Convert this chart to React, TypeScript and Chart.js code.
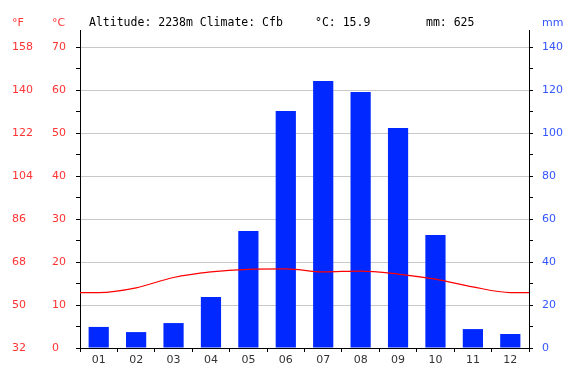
import React, { useEffect, useRef } from 'react';
import { Chart, registerables } from 'chart.js';

Chart.register(...registerables);

const months = ['01', '02', '03', '04', '05', '06', '07', '08', '09', '10', '11', '12'];
const precipitationMm = [9.8, 7.4, 11.6, 23.7, 54.4, 110.2, 124.2, 119.1, 102.3, 52.6, 8.8, 6.5];
const temperatureC = [12.9, 14.0, 16.4, 17.7, 18.3, 18.4, 17.7, 17.9, 17.2, 16.0, 14.2, 12.9];

const headerInfo = 'Altitude: 2238m Climate: Cfb';
const headerTemp = '°C: 15.9';
const headerPrecip = 'mm: 625';
const unitF = '°F';
const unitC = '°C';
const unitMm = 'mm';

const RED = '#ff3333';
const BLUE = '#3355ff';
const TICK_FONT = { family: 'DejaVu Sans', size: 11 };

export default function App() {
  const ref = useRef<HTMLCanvasElement>(null);

  useEffect(() => {
    document.body.style.margin = '0';
    const canvas = ref.current;
    if (!canvas) return;

    const lineData = [
      { x: 0.5, y: temperatureC[0] },
      ...temperatureC.map((v, i) => ({ x: i + 1, y: v })),
      { x: 12.5, y: temperatureC[temperatureC.length - 1] },
    ];

    const decor = {
      id: 'decor',
      afterDraw(chart: any) {
        const { ctx, chartArea } = chart;
        ctx.save();
        ctx.strokeStyle = '#000';
        ctx.lineWidth = 1;
        const lx = Math.round(chartArea.left) + 0.5;
        const rx = Math.round(chartArea.right) + 0.5;
        ctx.beginPath();
        ctx.moveTo(lx, 30);
        ctx.lineTo(lx, chartArea.top);
        ctx.moveTo(rx, 30);
        ctx.lineTo(rx, chartArea.top);
        ctx.stroke();

        ctx.textBaseline = 'middle';
        ctx.textAlign = 'left';
        ctx.font = '11px "DejaVu Sans"';
        ctx.fillStyle = RED;
        ctx.fillText(unitF, 12, 23);
        ctx.fillText(unitC, 52, 23);
        ctx.fillStyle = BLUE;
        ctx.fillText(unitMm, 542, 23);

        ctx.font = '11.5px "DejaVu Sans Mono"';
        ctx.fillStyle = '#000';
        ctx.fillText(headerInfo, 89, 23);
        ctx.fillText(headerTemp, 315, 23);
        ctx.fillText(headerPrecip, 426, 23);
        ctx.restore();
      },
    };

    const chart = new Chart(canvas, {
      type: 'bar',
      data: {
        labels: months,
        datasets: [
          {
            type: 'bar',
            data: precipitationMm,
            xAxisID: 'x',
            yAxisID: 'ymm',
            backgroundColor: '#0028ff',
            barPercentage: 0.54,
            categoryPercentage: 1,
            grouped: false,
            order: 1,
          },
          {
            type: 'line',
            data: lineData as any,
            xAxisID: 'xl',
            yAxisID: 'y',
            borderColor: '#ff0000',
            borderWidth: 1.2,
            pointRadius: 0,
            cubicInterpolationMode: 'monotone',
            fill: false,
            order: 0,
          } as any,
        ],
      },
      options: {
        responsive: false,
        animation: false,
        layout: { padding: { left: 12, top: 47, right: 0, bottom: 0 } },
        plugins: { legend: { display: false }, tooltip: { enabled: false }, title: { display: false } },
        scales: {
          x: {
            type: 'category',
            position: 'bottom',
            offset: true,
            grid: { offset: true, drawOnChartArea: false, tickLength: 4, tickColor: '#000' },
            border: { color: '#000' },
            ticks: { color: '#333', font: TICK_FONT, padding: 2, maxRotation: 0 },
            afterFit: (s: any) => { s.height = 34; },
          },
          xl: { type: 'linear', display: false, offset: false, min: 0.5, max: 12.5, grid: { offset: false } },
          y: {
            position: 'left',
            weight: 0,
            min: 0,
            max: 70,
            ticks: {
              stepSize: 5,
              color: RED,
              font: TICK_FONT,
              crossAlign: 'far',
              callback: (v: any) => (Number(v) % 10 === 0 ? String(v) : ''),
            },
            grid: {
              color: (c: any) => (c.tick && c.tick.value % 10 === 0 && c.tick.value !== 0 ? '#c8c8c8' : 'rgba(0,0,0,0)'),
              tickColor: '#000',
              tickLength: 4,
            },
            border: { color: '#000' },
            afterFit: (s: any) => { s.width = 28; },
          },
          yF: {
            position: 'left',
            weight: 1,
            min: 32,
            max: 158,
            ticks: { stepSize: 18, color: RED, font: TICK_FONT, crossAlign: 'far' },
            grid: { display: false },
            border: { display: false },
            afterFit: (s: any) => { s.width = 40; },
          },
          ymm: {
            position: 'right',
            min: 0,
            max: 140,
            ticks: {
              stepSize: 10,
              color: BLUE,
              font: TICK_FONT,
              padding: 9,
              callback: (v: any) => (Number(v) % 20 === 0 ? String(v) : ''),
            },
            grid: { drawOnChartArea: false, tickColor: '#000', tickLength: 4 },
            border: { color: '#000' },
            afterFit: (s: any) => { s.width = 47; },
          },
        } as any,
      },
      plugins: [decor],
    });

    return () => chart.destroy();
  }, []);

  return <canvas ref={ref} width={576} height={382} style={{ display: 'block' }} />;
}
